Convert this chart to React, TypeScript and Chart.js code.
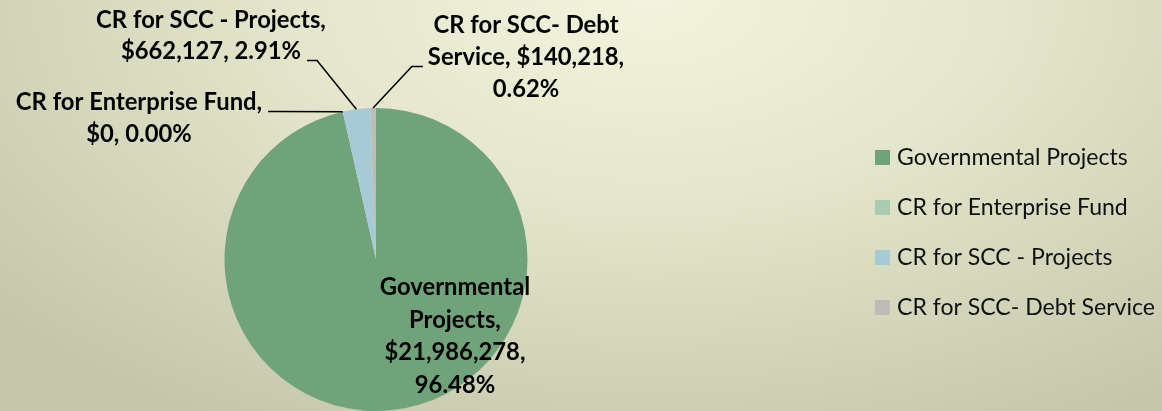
import React, { useEffect, useRef } from "react";
import { Chart, registerables } from "chart.js";

Chart.register(...registerables);

// ---- data ----
const categories = [
  "Governmental Projects",
  "CR for Enterprise Fund",
  "CR for SCC - Projects",
  "CR for SCC- Debt Service",
];
const values = [21986278, 0, 662127, 140218];
const percentLabels = ["96.48%", "0.00%", "2.91%", "0.62%"];

// ---- styles ----
const sliceColors = ["#71A37A", "#A9CCAF", "#A7CBD6", "#BDBDB5"];
const FONT = "Lato, 'Open Sans', sans-serif";

// label placement (style only)
const labelLayout = [
  { cx: 455, y0: 295, maxW: 175, lh: 32.5, attach: null as any },
  { cx: 139, y0: 110, maxW: 265, lh: 32, attach: { line: 0, side: "right", elbow: 8 } },
  { cx: 211, y0: 28, maxW: 235, lh: 31, attach: { line: 1, side: "right", elbow: 10 } },
  { cx: 526, y0: 33, maxW: 200, lh: 32, attach: { line: 1, side: "left", elbow: 11 } },
];
const legendLayout = { boxX: 875, textX: 897, firstBaseline: 165, step: 50, box: 15 };

function fitSize(ctx: CanvasRenderingContext2D, weight: string, text: string, target: number) {
  ctx.font = `${weight} 100px ${FONT}`;
  const w = ctx.measureText(text).width;
  return (100 * target) / w;
}

function wrap(ctx: CanvasRenderingContext2D, text: string, maxW: number) {
  const words = text.split(" ");
  const lines: string[] = [];
  let cur = "";
  for (const w of words) {
    const test = cur ? cur + " " + w : w;
    if (cur && ctx.measureText(test).width > maxW) {
      lines.push(cur);
      cur = w;
    } else cur = test;
  }
  if (cur) lines.push(cur);
  return lines;
}

const labelPlugin = {
  id: "excelLabels",
  afterDatasetsDraw(chart: any) {
    const ctx: CanvasRenderingContext2D = chart.ctx;
    const meta = chart.getDatasetMeta(0);
    ctx.save();
    const boldSize = fitSize(ctx, "bold", "CR for SCC - Projects,", 230);
    ctx.font = `bold ${boldSize}px ${FONT}`;
    ctx.fillStyle = "#000000";
    ctx.textBaseline = "alphabetic";
    ctx.textAlign = "center";
    categories.forEach((name, i) => {
      const L = labelLayout[i];
      const text = `${name}, $${values[i].toLocaleString("en-US")}, ${percentLabels[i]}`;
      const lines = wrap(ctx, text, L.maxW);
      lines.forEach((ln, k) => ctx.fillText(ln, L.cx, L.y0 + k * L.lh));
      if (L.attach) {
        const arc = meta.data[i];
        const mid = (arc.startAngle + arc.endAngle) / 2;
        const px = arc.x + Math.cos(mid) * arc.outerRadius;
        const py = arc.y + Math.sin(mid) * arc.outerRadius;
        const ln = lines[L.attach.line];
        const w = ctx.measureText(ln).width;
        const ay = L.y0 + L.attach.line * L.lh + 1.5;
        let sx: number, ex: number;
        if (L.attach.side === "right") {
          sx = L.cx + w / 2 + 6;
          ex = sx + L.attach.elbow;
        } else {
          sx = L.cx - w / 2 - 5;
          ex = sx - L.attach.elbow;
        }
        ctx.beginPath();
        ctx.strokeStyle = "#000000";
        ctx.lineWidth = 1.5;
        ctx.moveTo(sx, ay);
        ctx.lineTo(ex, ay);
        ctx.lineTo(px, py);
        ctx.stroke();
      }
    });

    // legend
    const regSize = fitSize(ctx, "normal", "CR for SCC- Debt Service", 258);
    ctx.font = `normal ${regSize}px ${FONT}`;
    ctx.textAlign = "left";
    categories.forEach((name, i) => {
      const base = legendLayout.firstBaseline + i * legendLayout.step;
      ctx.fillStyle = sliceColors[i];
      ctx.fillRect(legendLayout.boxX, base - legendLayout.box, legendLayout.box, legendLayout.box);
      ctx.fillStyle = "#111111";
      ctx.fillText(name, legendLayout.textX, base);
    });
    ctx.restore();
  },
};

export default function App() {
  const ref = useRef<HTMLCanvasElement | null>(null);
  useEffect(() => {
    if (!ref.current) return;
    const chart = new Chart(ref.current, {
      type: "pie",
      data: {
        labels: categories,
        datasets: [
          {
            data: values,
            backgroundColor: sliceColors,
            borderWidth: 0,
          },
        ],
      },
      options: {
        responsive: false,
        animation: false,
        layout: { padding: { left: 0, right: 410, top: 108, bottom: 0 } },
        plugins: {
          legend: { display: false },
          tooltip: { enabled: false },
          title: { display: false },
        },
      },
      plugins: [labelPlugin],
    });
    return () => chart.destroy();
  }, []);

  return (
    <div
      style={{
        position: "absolute",
        left: 0,
        top: 0,
        width: 1162,
        height: 411,
        overflow: "hidden",
        background:
          "radial-gradient(ellipse 75% 120% at 56% 0%, #f1f3dc 0%, #e5e7cc 40%, #c3c6a9 100%)",
      }}
    >
      <canvas ref={ref} width={1162} height={411} style={{ display: "block" }} />
    </div>
  );
}
